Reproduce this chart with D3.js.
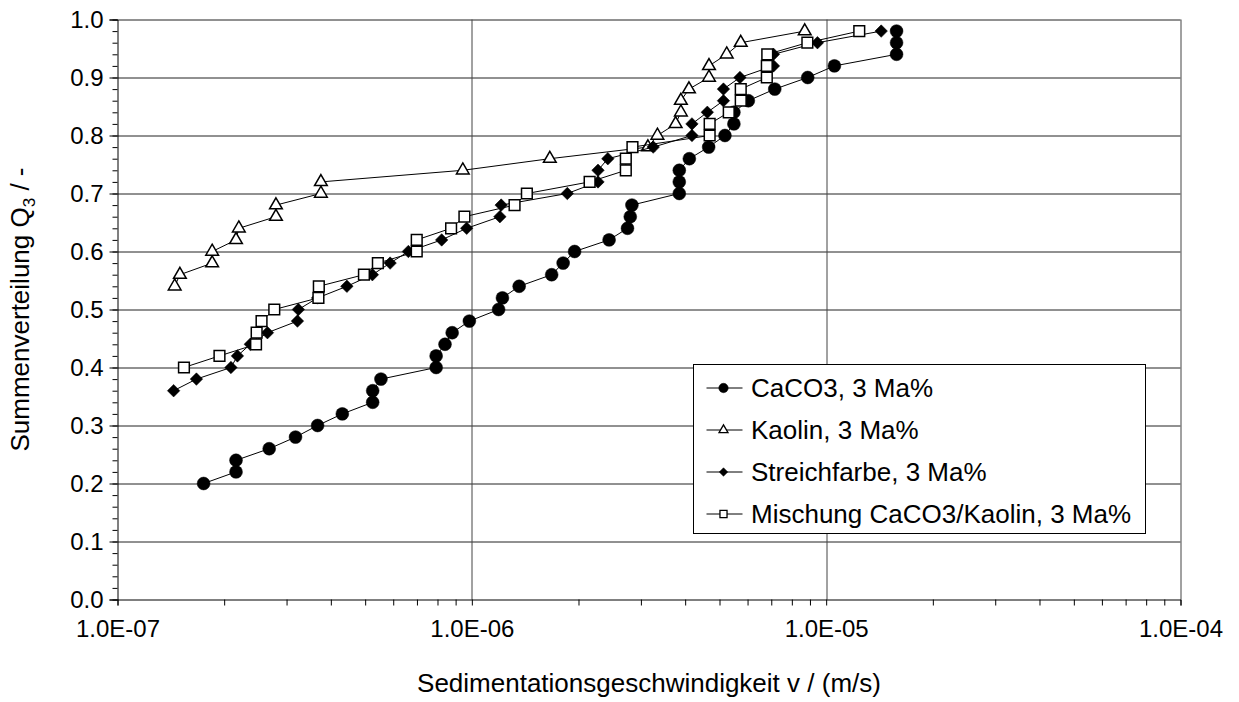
<!DOCTYPE html>
<html>
    <head>
        <title>Sedimentationsgeschwindigkeit</title>
        <script src="https://d3js.org/d3.v7.min.js"></script>
        <style>
            body {
                margin: 0;
                background: white;
                font-family: "Liberation Sans", Arial, sans-serif;
            }
            svg {
                width: 1239px;
                height: 702px;
                display: block;
            }
            text {
                fill: black;
            }
        </style>
    </head>
    <body>
        <svg></svg>
    </body>
    <script>
        // Q3 values (same steps for all series, 0.02 apart)
        const caco3Q = [0.20,0.22,0.24,0.26,0.28,0.30,0.32,0.34,0.36,0.38,0.40,0.42,0.44,0.46,0.48,0.50,0.52,0.54,0.56,0.58,
                        0.60,0.62,0.64,0.66,0.68,0.70,0.72,0.74,0.76,0.78,0.80,0.82,0.84,0.86,0.88,0.90,0.92,0.94,0.96,0.98];
        const caco3V = [1.75e-7,2.16e-7,2.16e-7,2.68e-7,3.18e-7,3.67e-7,4.31e-7,5.25e-7,5.25e-7,5.54e-7,
                        7.93e-7,7.93e-7,8.40e-7,8.80e-7,9.84e-7,1.19e-6,1.22e-6,1.36e-6,1.68e-6,1.81e-6,
                        1.95e-6,2.44e-6,2.75e-6,2.80e-6,2.83e-6,3.85e-6,3.85e-6,3.85e-6,4.11e-6,4.66e-6,
                        5.18e-6,5.49e-6,5.49e-6,6.03e-6,7.16e-6,8.87e-6,1.055e-5,1.58e-5,1.58e-5,1.58e-5];

        const kaolinQ = [0.54,0.56,0.58,0.60,0.62,0.64,0.66,0.68,0.70,0.72,0.74,0.76,0.78,0.80,0.82,0.84,0.86,0.88,0.90,0.92,0.94,0.96,0.98];
        const kaolinV = [1.45e-7,1.50e-7,1.85e-7,1.85e-7,2.16e-7,2.20e-7,2.80e-7,2.80e-7,3.75e-7,3.75e-7,
                         9.43e-7,1.66e-6,3.14e-6,3.34e-6,3.76e-6,3.89e-6,3.89e-6,4.10e-6,4.67e-6,4.67e-6,
                         5.24e-6,5.74e-6,8.70e-6];

        const farbeQ = [0.36,0.38,0.40,0.42,0.44,0.46,0.48,0.50,0.52,0.54,0.56,0.58,0.60,0.62,0.64,0.66,0.68,
                        0.70,0.72,0.74,0.76,0.78,0.80,0.82,0.84,0.86,0.88,0.90,0.92,0.94,0.96,0.98];
        const farbeV = [1.44e-7,1.67e-7,2.09e-7,2.18e-7,2.37e-7,2.65e-7,3.22e-7,3.24e-7,3.67e-7,4.44e-7,
                        5.24e-7,5.88e-7,6.62e-7,8.22e-7,9.67e-7,1.20e-6,1.21e-6,1.86e-6,2.27e-6,2.27e-6,
                        2.42e-6,3.25e-6,4.18e-6,4.18e-6,4.62e-6,5.13e-6,5.13e-6,5.71e-6,7.10e-6,7.10e-6,
                        9.45e-6,1.43e-5];

        const mischQ = [0.40,0.42,0.44,0.46,0.48,0.50,0.52,0.54,0.56,0.58,0.60,0.62,0.64,0.66,0.68,
                        0.70,0.72,0.74,0.76,0.78,0.80,0.82,0.84,0.86,0.88,0.90,0.92,0.94,0.96,0.98];
        const mischV = [1.54e-7,1.94e-7,2.46e-7,2.47e-7,2.55e-7,2.77e-7,3.69e-7,3.70e-7,4.96e-7,5.43e-7,
                        6.99e-7,6.99e-7,8.74e-7,9.53e-7,1.32e-6,1.43e-6,2.15e-6,2.72e-6,2.72e-6,2.84e-6,
                        4.69e-6,4.69e-6,5.31e-6,5.74e-6,5.74e-6,6.80e-6,6.80e-6,6.82e-6,8.85e-6,1.24e-5];

        const seriesNames = ['CaCO3, 3 Ma%', 'Kaolin, 3 Ma%', 'Streichfarbe, 3 Ma%', 'Mischung CaCO3/Kaolin, 3 Ma%'];
        const xTickValues = [1e-7, 1e-6, 1e-5, 1e-4];
        const yTickValues = [0, 0.1, 0.2, 0.3, 0.4, 0.5, 0.6, 0.7, 0.8, 0.9, 1.0];

        const svg = d3.select('svg');
        const width = 1239, height = 702;
        const margin = { top: 19.5, bottom: 102.5, right: 58.5, left: 117.5 };
        const innerWidth = width - margin.left - margin.right;
        const innerHeight = height - margin.top - margin.bottom;

        const xScale = d3.scaleLog().domain([1e-7, 1e-4]).range([0, innerWidth]);
        const yScale = d3.scaleLinear().domain([0, 1]).range([innerHeight, 0]);

        const g = svg.append('g')
                     .attr('transform', `translate(${margin.left},${margin.top})`);

        // grid lines
        g.append('g').selectAll('line')
            .data(yTickValues.slice(1))
            .enter().append('line')
            .attr('x1', 0).attr('x2', innerWidth)
            .attr('y1', d => Math.round(yScale(d)) + 0.5)
            .attr('y2', d => Math.round(yScale(d)) + 0.5)
            .style('stroke', '#222').style('stroke-width', 1);
        g.append('g').selectAll('line')
            .data(xTickValues.slice(1))
            .enter().append('line')
            .attr('x1', d => Math.round(xScale(d)) + 0.5)
            .attr('x2', d => Math.round(xScale(d)) + 0.5)
            .attr('y1', 0).attr('y2', innerHeight)
            .style('stroke', '#444').style('stroke-width', 1);

        // y axis with minor ticks every 0.02 (no labels, drop the empty text nodes)
        const yMinor = d3.range(0, 1.0001, 0.02);
        g.append('g')
            .call(d3.axisLeft(yScale).tickValues(yMinor).tickSize(5).tickFormat(''))
            .call(a => a.select('.domain').remove())
            .call(a => a.selectAll('text').remove());
        g.append('g')
            .call(d3.axisLeft(yScale).tickValues(yTickValues).tickSize(8).tickPadding(6)
                  .tickFormat(d3.format('.1f')))
            .style('font-size', '24px')
            .style('font-family', '"Liberation Sans", Arial, sans-serif');

        // x axis: log ticks 2..9 as minor ones
        const xMinor = [];
        [1e-7, 1e-6, 1e-5].forEach(d => { for (let k = 2; k <= 9; k++) xMinor.push(d * k); });
        g.append('g').attr('transform', `translate(0,${innerHeight})`)
            .call(d3.axisBottom(xScale).tickValues(xMinor).tickSize(6).tickFormat(''))
            .call(a => a.select('.domain').remove())
            .call(a => a.selectAll('text').remove());
        g.append('g').attr('transform', `translate(0,${innerHeight})`)
            .call(d3.axisBottom(xScale).tickValues(xTickValues).tickSize(6).tickPadding(14)
                  .tickFormat(d => d.toExponential(1).toUpperCase().replace(/E([+-])(\d)$/, 'E$10$2')))
            .style('font-size', '24px')
            .style('font-family', '"Liberation Sans", Arial, sans-serif');
        g.selectAll('.domain, .tick line').style('stroke', 'black');

        // axis titles
        g.append('text')
            .attr('x', innerWidth / 2)
            .attr('y', innerHeight + 92)
            .style('text-anchor', 'middle')
            .style('font-size', '26px')
            .text('Sedimentationsgeschwindigkeit v / (m/s)');
        const yTitle = g.append('text')
            .attr('transform', 'rotate(-90)')
            .attr('x', -innerHeight / 2)
            .attr('y', -89)
            .style('text-anchor', 'middle')
            .style('font-size', '26px');
        yTitle.append('tspan').text('Summenverteilung Q');
        yTitle.append('tspan').attr('dy', 6).style('font-size', '17px').text('3');
        yTitle.append('tspan').attr('dy', -6).text(' / -');

        // series
        const series = [
            { name: seriesNames[0], q: caco3Q, v: caco3V, symbol: d3.symbolCircle, size: 130, fill: 'black', rot: 0 },
            { name: seriesNames[1], q: kaolinQ, v: kaolinV, symbol: d3.symbolTriangle, size: 70, fill: 'white', rot: 0 },
            { name: seriesNames[2], q: farbeQ, v: farbeV, symbol: d3.symbolSquare, size: 78, fill: 'black', rot: 45 },
            { name: seriesNames[3], q: mischQ, v: mischV, symbol: d3.symbolSquare, size: 115, fill: 'white', rot: 0 }
        ];
        const line = d3.line().x(d => xScale(d[0])).y(d => yScale(d[1]));

        series.forEach(s => {
            const pts = s.v.map((v, i) => [v, s.q[i]]);
            const sg = g.append('g');
            sg.append('path')
                .attr('d', line(pts))
                .style('fill', 'none')
                .style('stroke', 'black')
                .style('stroke-width', 1);
            sg.selectAll('path.mark')
                .data(pts)
                .enter().append('path')
                .attr('class', 'mark')
                .attr('transform', d => `translate(${xScale(d[0])},${yScale(d[1])}) rotate(${s.rot})`)
                .attr('d', d3.symbol().type(s.symbol).size(s.size))
                .style('fill', s.fill)
                .style('stroke', 'black')
                .style('stroke-width', s.fill === 'white' ? 1.5 : 0.5);
        });

        // legend, box sized from the text
        const legX = 693.5, legY = 364.5, legH = 169;
        const legend = svg.append('g');
        const legRect = legend.append('rect')
            .attr('x', legX).attr('y', legY).attr('height', legH)
            .style('fill', 'white').style('stroke', 'black').style('stroke-width', 1);
        const legendSizes = [70, 35, 36, 50];
        let maxRight = 0;
        series.forEach((s, i) => {
            const cy = 388 + i * 42;
            legend.append('line')
                .attr('x1', 706.5).attr('x2', 742.5).attr('y1', cy).attr('y2', cy)
                .style('stroke', 'black');
            legend.append('path')
                .attr('transform', `translate(723.5,${cy}) rotate(${s.rot})`)
                .attr('d', d3.symbol().type(s.symbol).size(legendSizes[i]))
                .style('fill', s.fill).style('stroke', 'black')
                .style('stroke-width', s.fill === 'white' ? 1.3 : 0.5);
            const t = legend.append('text')
                .attr('x', 751).attr('y', cy)
                .attr('dy', '0.35em')
                .style('font-size', '26px')
                .text(s.name);
            const bb = t.node().getBBox();
            maxRight = Math.max(maxRight, bb.x + bb.width);
        });
        legRect.attr('width', Math.round(maxRight + 14 - legX));
    </script>
</html>
